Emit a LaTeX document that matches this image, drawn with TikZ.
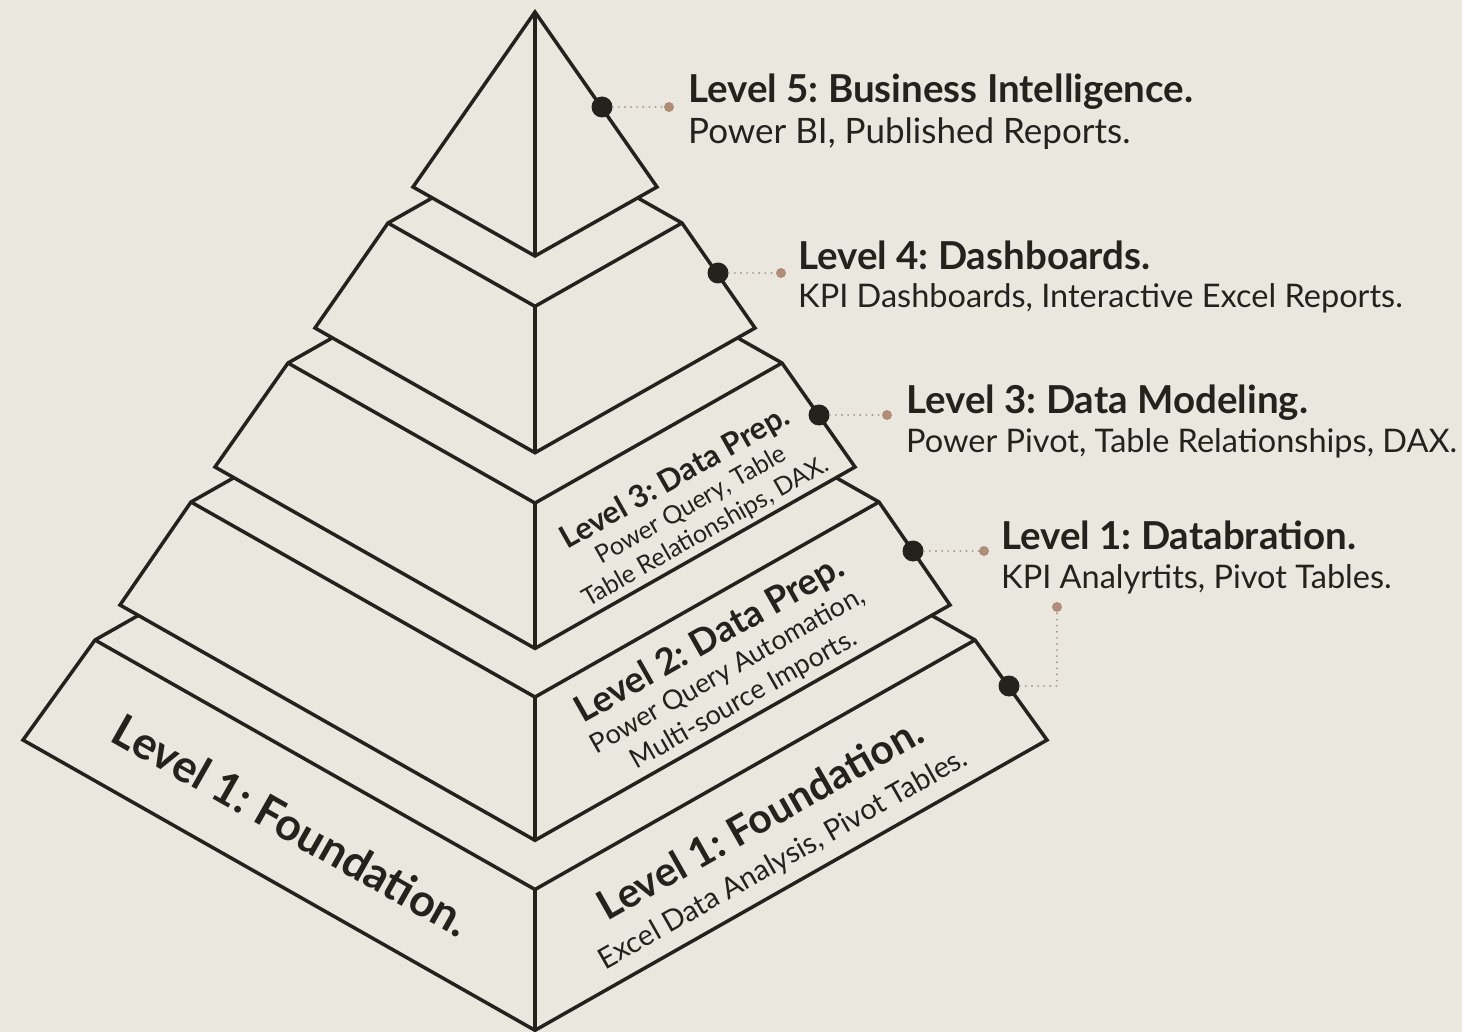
\documentclass[tikz,border=0pt]{standalone}
\usepackage{fontspec}
\setmainfont{Lato}
\usetikzlibrary{calc,positioning}
\definecolor{paper}{HTML}{EAE7DF}
\definecolor{ink}{HTML}{25221E}
\definecolor{tan}{HTML}{B08D78}
\definecolor{leadgray}{HTML}{A49A90}
\newcommand{\slab}[4]{%
  \draw[block] (535-#1,#2) -- (535,#2-0.567*#1) -- (535+#1,#2) -- (535+#3,#4) -- (535,#4+0.567*#3) -- (535-#3,#4) -- cycle;
  \draw[edge] (535-#1,#2) -- (535,#2+0.567*#1) -- (535+#1,#2);
  \draw[edge] (535,#2+0.567*#1) -- (535,#4+0.567*#3);
}
\newcommand{\head}[1]{{\fontsize{38.5}{42}\selectfont\bfseries #1}}
\newcommand{\sub}[1]{{\fontsize{32.5}{36}\selectfont #1}}
\frenchspacing

\begin{document}
\frenchspacing
\begin{tikzpicture}[x=1pt,y=-1pt]
      \tikzstyle{block}=[fill=paper,draw=ink,line width=3.5pt,line join=miter]
      \tikzstyle{edge}=[draw=ink,line width=3.5pt,line join=miter]
      \tikzstyle{hub}=[circle,fill=ink,inner sep=0pt,minimum size=21pt]
      \tikzstyle{tip}=[circle,fill=tan,inner sep=0pt,minimum size=10pt]
      \tikzstyle{leader}=[draw=leadgray,line width=2pt,dash pattern=on 0.1pt off 6pt,line cap=round]
      \tikzstyle{facetext}=[align=center,inner sep=0pt,text=ink,rotate=29.56]
      \tikzstyle{callout}=[anchor=base west,inner sep=0pt,text=ink]

      \fill[paper] (0,0) rectangle (1462,1032);
      \useasboundingbox (0,0) rectangle (1462,1032);

      % the pyramid, bottom level first
      \slab{440}{640}{512}{740}
      \slab{344}{502}{415}{605}
      \slab{247}{363}{320}{467}
      \slab{147}{223}{220}{328}
      \draw[block] (535,12) -- (413,187) -- (535,256) -- (657,187) -- cycle;
      \draw[edge] (535,12) -- (535,256);

      % texts on the faces
      \node[facetext,font=\fontsize{25}{30}\selectfont] (f3) at (690,504)
        {{\fontsize{31}{33}\selectfont\bfseries Level 3: Data Prep.}\\ Power Query, Table\\ Table Relationships, DAX.};
      \node[facetext,font=\fontsize{27}{33}\selectfont] (f2) at (726,668)
        {{\fontsize{36.5}{38}\selectfont\bfseries Level 2: Data Prep.}\\ Power Query Automation,\\ Multi-source Imports.};
      \node[facetext,font=\fontsize{29}{41}\selectfont] (f1) at (771,838)
        {{\fontsize{41}{44}\selectfont\bfseries Level 1: Foundation.}\\ Excel Data Analysis, Pivot Tables.};
      \node[facetext,rotate=-59.12,font=\fontsize{45}{48}\selectfont\bfseries] (f0) at (292,825) {Level 1: Foundation.};

      % call-outs on the right
      \node[hub] (h5) at (602,107) {};
      \node[hub] (h4) at (718,273) {};
      \node[hub] (h3) at (819,415) {};
      \node[hub] (h2) at (913,551) {};
      \node[hub] (h1) at (1009,686) {};

      \node[tip] (t5) at (669,107) {};
      \node[tip] (t4) at (781,273) {};
      \node[tip] (t3) at (887,415) {};
      \node[tip] (t2) at (984,551) {};
      \node[tip] (t1) at (1057,607) {};

      \draw[leader] (h5) -- (t5);
      \draw[leader] (h4) -- (t4);
      \draw[leader] (h3) -- (t3);
      \draw[leader] (h2) -- (t2);
      \draw[leader] (h1) -| (t1);

      \node[callout] (l5) at (688,103) {\head{Level 5: Business Intelligence.}};
      \node[callout] (s5) at (688,144) {{\fontsize{35}{38}\selectfont Power BI, Published Reports.}};
      \node[callout] (l4) at (798,270) {\head{Level 4: Dashboards.}};
      \node[callout] (s4) at (798,308) {\sub{KPI Dashboards, Interactive Excel Reports.}};
      \node[callout] (l3) at (906,413) {\head{Level 3: Data Modeling.}};
      \node[callout] (s3) at (906,452) {\sub{Power Pivot, Table Relationships, DAX.}};
      \node[callout] (l2) at (1001,549) {\head{Level 1: Databration.}};
      \node[callout] (s2) at (1001,588) {\sub{KPI Analyrtits, Pivot Tables.}};
\end{tikzpicture}
\end{document}
